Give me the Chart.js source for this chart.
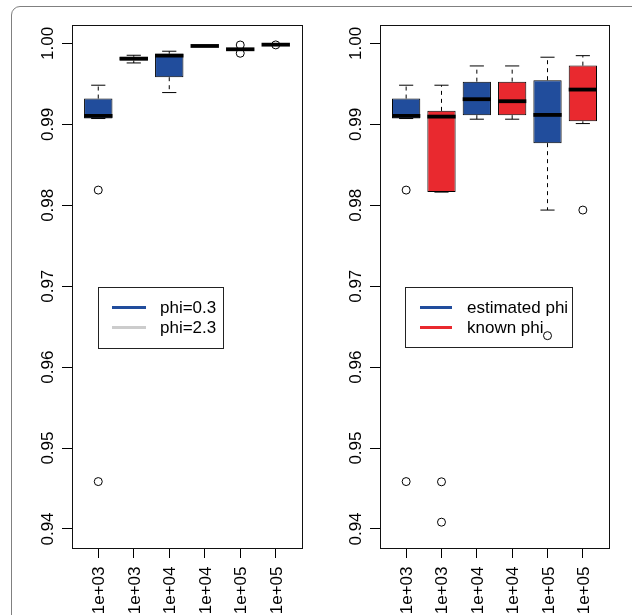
<!DOCTYPE html>
<html><head><meta charset="utf-8">
<script src="https://cdn.jsdelivr.net/npm/chart.js@4.4.1/dist/chart.umd.min.js"></script>
<style>
html,body{margin:0;padding:0;background:#fff;width:632px;height:615px;overflow:hidden;font-family:'Liberation Sans',Arial,sans-serif;}
#frame{position:absolute;left:11px;top:6px;width:680px;height:720px;border:1px solid #808080;border-radius:9px;box-sizing:border-box;}
canvas{position:absolute;top:0;}
.legend{position:absolute;border:1px solid #222;box-sizing:border-box;}
.lline{position:absolute;height:3px;}
.ltext{position:absolute;font-size:17px;line-height:17px;color:#000;white-space:nowrap;}
</style></head><body>
<div id="frame"></div>
<canvas id="c1" width="316" height="615" style="left:0px"></canvas>
<canvas id="c2" width="316" height="615" style="left:316px"></canvas>
<script>
// ---------- data ----------
const categories = ['1e+03','1e+03','1e+04','1e+04','1e+05','1e+05'];
const yTickValues = [0.94, 0.95, 0.96, 0.97, 0.98, 0.99, 1.00];
const yTickLabels = ['0.94','0.95','0.96','0.97','0.98','0.99','1.00'];
const yMin = 0.93765, yMax = 1.00228;

// left panel
const leftLow   = [0.99072, 0.99759, 0.99393, 0.99966, 0.99924, 0.99983];
const leftQ1    = [0.99072, 0.99790, 0.99583, 0.99968, 0.99926, 0.99984];
const leftMed   = [0.99105, 0.99812, 0.99850, 0.99969, 0.99928, 0.99985];
const leftQ3    = [0.99319, 0.99837, 0.99872, 0.99970, 0.99930, 0.99986];
const leftHigh  = [0.99484, 0.99854, 0.99904, 0.99972, 0.99932, 0.99987];
const leftOutGroup = [1, 1, 5, 5, 6];
const leftOutValue = [0.98188, 0.94586, 0.99981, 0.99879, 0.99982];
const leftSeries = ['phi=0.3','phi=0.3','phi=0.3','phi=0.3','phi=0.3','phi=0.3'];
const leftLegend = ['phi=0.3', 'phi=2.3'];

// right panel
const rightLow  = [0.99072, 0.98163, 0.99064, 0.99064, 0.97941, 0.99010];
const rightQ1   = [0.99072, 0.98163, 0.99114, 0.99114, 0.98768, 0.99040];
const rightMed  = [0.99105, 0.99096, 0.99311, 0.99286, 0.99117, 0.99430];
const rightQ3   = [0.99319, 0.99167, 0.99528, 0.99528, 0.99546, 0.99726];
const rightHigh = [0.99484, 0.99484, 0.99722, 0.99722, 0.99830, 0.99849];
const rightOutGroup = [1, 1, 2, 2, 5, 6];
const rightOutValue = [0.98188, 0.94586, 0.94583, 0.94084, 0.96389, 0.97941];
const rightSeries = ['estimated phi','known phi','estimated phi','known phi','estimated phi','known phi'];
const rightLegend = ['estimated phi', 'known phi'];

// ---------- styles ----------
const seriesColor = {'phi=0.3':'#214d9c', 'phi=2.3':'#cccccc', 'estimated phi':'#214d9c', 'known phi':'#e9292f'};
const FONT = "17px 'Liberation Sans', Arial, sans-serif";
const positions = categories.map((c, i) => i + 1);

function seg(ctx, x1, y1, x2, y2){ ctx.beginPath(); ctx.moveTo(x1,y1); ctx.lineTo(x2,y2); ctx.stroke(); }

function boxPlugin(st){
  return {
    id:'boxExtras',
    afterDatasetsDraw(chart){
      const ctx = chart.ctx, ys = chart.scales.y;
      const bars = chart.getDatasetMeta(0).data;
      ctx.save();
      ctx.strokeStyle = '#000';
      bars.forEach((b, i) => {
        const x = b.x, w = b.width;
        const pl = ys.getPixelForValue(st.low[i]), p1 = ys.getPixelForValue(st.q1[i]);
        const pm = ys.getPixelForValue(st.med[i]), p3 = ys.getPixelForValue(st.q3[i]);
        const ph = ys.getPixelForValue(st.high[i]);
        ctx.lineWidth = 1; ctx.setLineDash([4,4]);
        if (ph < p3 - 0.5) seg(ctx, x, p3, x, ph);
        if (pl > p1 + 0.5) seg(ctx, x, p1, x, pl);
        ctx.setLineDash([]);
        seg(ctx, x - w/4, ph, x + w/4, ph);
        seg(ctx, x - w/4, pl, x + w/4, pl);
        ctx.lineWidth = 3.8;
        seg(ctx, x - w/2, pm, x + w/2, pm);
      });
      ctx.restore();
    },
    afterDraw(chart){
      const ctx = chart.ctx, a = chart.chartArea;
      const xs = chart.scales.x, ys = chart.scales.y;
      ctx.save();
      ctx.strokeStyle = '#111'; ctx.lineWidth = 1;
      ctx.strokeRect(a.left + 0.5, a.top + 0.5, a.right - a.left, a.bottom - a.top);
      ctx.fillStyle = '#000'; ctx.font = FONT;
      // y labels, rotated
      ys.ticks.forEach((t) => {
        const py = ys.getPixelForValue(t.value);
        ctx.save(); ctx.translate(a.left - 19, py); ctx.rotate(-Math.PI/2);
        ctx.textAlign = 'center'; ctx.textBaseline = 'alphabetic';
        ctx.fillText(yTickLabels[yTickValues.indexOf(t.value)], 0, 0);
        ctx.restore();
      });
      // x labels, rotated
      xs.ticks.forEach((t) => {
        const px = xs.getPixelForValue(t.value);
        ctx.save(); ctx.translate(px + 6, a.bottom + 18.5); ctx.rotate(-Math.PI/2);
        ctx.textAlign = 'right'; ctx.textBaseline = 'alphabetic';
        ctx.fillText(categories[Math.round(t.value) - 1], 0, 0);
        ctx.restore();
      });
      ctx.restore();
    }
  };
}

function makePanel(id, st, outGroup, outValue, series, yAxisWidth, padRight){
  new Chart(document.getElementById(id), {
    type:'bar',
    data:{datasets:[
      {type:'bar', data: positions.map((x, i) => ({x: x, y: [st.q1[i], st.q3[i]]})),
       backgroundColor: series.map(s => seriesColor[s]), borderColor:'#000', borderWidth:1,
       borderSkipped:false, barPercentage:0.8, categoryPercentage:1, order:2},
      {type:'scatter', data: outGroup.map((g, i) => ({x: g, y: outValue[i]})),
       pointStyle:'circle', pointRadius:4, pointBorderWidth:1,
       pointBackgroundColor:'rgba(0,0,0,0)', pointBorderColor:'#000', order:1}
    ]},
    options:{
      responsive:false, animation:false, devicePixelRatio:1, events:[],
      layout:{padding:{top:25, right:padRight, bottom:0, left:0}},
      plugins:{legend:{display:false}, tooltip:{enabled:false}},
      scales:{
        x:{type:'linear', position:'bottom', min:0.26, max:6.74, offset:false,
           afterBuildTicks: s => { s.ticks = positions.map(v => ({value:v})); },
           afterFit: s => { s.height = 67; },
           ticks:{display:false},
           grid:{drawOnChartArea:false, drawTicks:true, tickLength:10, color:'#000', offset:false},
           border:{display:false}},
        y:{type:'linear', position:'left', min:yMin, max:yMax,
           afterBuildTicks: s => { s.ticks = yTickValues.map(v => ({value:v})); },
           afterFit: s => { s.width = yAxisWidth; },
           ticks:{display:false},
           grid:{drawOnChartArea:false, drawTicks:true, tickLength:10, color:'#000'},
           border:{display:false}}
      }
    },
    plugins:[boxPlugin(st)]
  });
}

makePanel('c1', {low:leftLow, q1:leftQ1, med:leftMed, q3:leftQ3, high:leftHigh},
          leftOutGroup, leftOutValue, leftSeries, 72, 14);
makePanel('c2', {low:rightLow, q1:rightQ1, med:rightMed, q3:rightQ3, high:rightHigh},
          rightOutGroup, rightOutValue, rightSeries, 64, 23);

// ---------- legends (HTML text) ----------
function legend(labels, box, lineX, lineW, textX, rowY){
  const d = document.createElement('div'); d.className = 'legend';
  Object.assign(d.style, {left:box[0]+'px', top:box[1]+'px', width:box[2]+'px', height:box[3]+'px'});
  document.body.appendChild(d);
  labels.forEach((lab, i) => {
    const l = document.createElement('div'); l.className = 'lline';
    Object.assign(l.style, {left:lineX+'px', top:(rowY[i]-1.5)+'px', width:lineW+'px', background:seriesColor[lab]});
    document.body.appendChild(l);
    const t = document.createElement('div'); t.className = 'ltext'; t.textContent = lab;
    Object.assign(t.style, {left:textX+'px', top:(rowY[i]-8.3)+'px'});
    document.body.appendChild(t);
  });
}
legend(leftLegend, [98, 287, 126, 62], 112, 34, 160, [307.7, 327.7]);
legend(rightLegend, [405, 287, 168, 61], 420, 32, 467, [307, 327.3]);
</script>
</body></html>
